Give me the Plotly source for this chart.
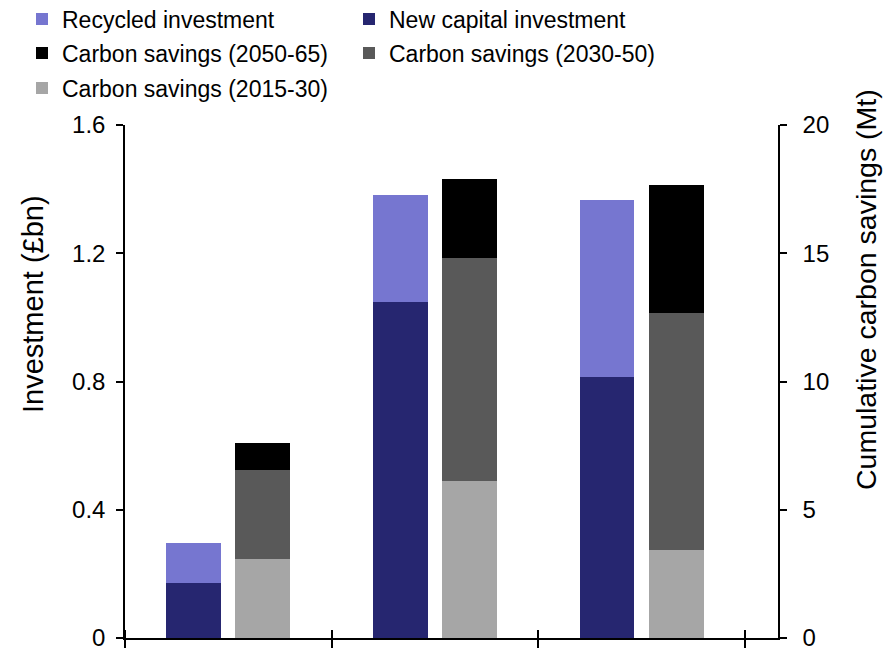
import plotly.graph_objects as go

# ---------------- data ----------------
categories = [0, 1, 2]
new_capital = [0.172, 1.049, 0.814]      # £bn
recycled = [0.124, 0.333, 0.552]         # £bn
carbon_2015_30 = [3.08, 6.12, 3.43]      # Mt
carbon_2030_50 = [3.47, 8.68, 9.24]      # Mt
carbon_2050_65 = [1.05, 3.08, 4.99]      # Mt
left_ticks = [0, 0.4, 0.8, 1.2, 1.6]
left_tick_text = ["0", "0.4", "0.8", "1.2", "1.6"]
right_ticks = [0, 5, 10, 15, 20]
boundary_ticks = [-0.5, 0.5, 1.5, 2.5]
left_title = "Investment (£bn)"
right_title = "Cumulative carbon savings (Mt)"

FONT = "Liberation Sans, Arial, sans-serif"
BW = 0.265
INV_OFF = -0.167 - BW / 2
CAR_OFF = 0.167 - BW / 2
XRANGE = [-0.5, 2.66]

fig = go.Figure()


def bar(name, y, color, axis, off, legend, rank):
    return go.Bar(
        x=categories, y=y, name=name, yaxis=axis, width=BW, offset=off,
        marker=dict(color=color, line=dict(width=0)),
        legend=legend, legendrank=rank, hoverinfo="name+y",
    )


fig.add_trace(bar("New capital investment", new_capital, "#262670", "y", INV_OFF, "legend", 2))
fig.add_trace(bar("Recycled investment", recycled, "#7676D0", "y", INV_OFF, "legend", 1))
fig.add_trace(bar("Carbon savings (2015-30)", carbon_2015_30, "#A6A6A6", "y2", CAR_OFF, "legend3", 5))
fig.add_trace(bar("Carbon savings (2030-50)", carbon_2030_50, "#595959", "y2", CAR_OFF, "legend2", 4))
fig.add_trace(bar("Carbon savings (2050-65)", carbon_2050_65, "#000000", "y2", CAR_OFF, "legend2", 3))
# invisible helper so the upward-tick companion axis is drawn
fig.add_trace(go.Scatter(x=categories, y=new_capital, xaxis="x2", yaxis="y",
                         showlegend=False, hoverinfo="skip", mode="markers",
                         marker=dict(opacity=0)))

leg_common = dict(
    orientation="h", xref="container", yref="container", x=22 / 893, xanchor="left",
    yanchor="middle", font=dict(family=FONT, size=23, color="black"),
    entrywidth=282, entrywidthmode="pixels", itemwidth=30,
    bgcolor="rgba(0,0,0,0)", traceorder="normal",
)

fig.update_layout(
    width=893, height=650,
    margin=dict(l=125, r=115, t=125, b=12, autoexpand=False),
    paper_bgcolor="white", plot_bgcolor="white",
    barmode="stack",
    font=dict(family=FONT, size=24, color="black"),
    showlegend=True,
    legend=dict(leg_common, y=1 - 19 / 650),
    legend2=dict(leg_common, y=1 - 53 / 650),
    legend3=dict(leg_common, y=1 - 88 / 650),
    xaxis=dict(
        range=XRANGE, tickvals=boundary_ticks, ticktext=["", "", "", ""],
        ticks="outside", ticklen=8, tickwidth=1.5, tickcolor="black",
        showline=True, linecolor="black", linewidth=1.5, automargin=False,
        showgrid=False, zeroline=False, fixedrange=True,
    ),
    xaxis2=dict(
        overlaying="x", anchor="free", position=0, side="top", range=XRANGE,
        tickvals=boundary_ticks, ticktext=["", "", "", ""], ticks="outside",
        ticklen=8, tickwidth=1.5, tickcolor="black", automargin=False,
        showline=False, showgrid=False, zeroline=False, fixedrange=True,
    ),
    yaxis=dict(
        range=[0, 1.6], tickvals=left_ticks, ticktext=left_tick_text,
        ticks="outside", ticklen=7, tickwidth=1.5, tickcolor="black",
        showline=True, linecolor="black", linewidth=1.5, automargin=False,
        showgrid=False, zeroline=False, ticklabeloverflow="allow",
        ticklabelstandoff=6, tickfont=dict(size=24),
    ),
    yaxis2=dict(
        range=[0, 20], tickvals=right_ticks, overlaying="y", side="right",
        ticks="outside", ticklen=7, tickwidth=1.5, tickcolor="black",
        showline=True, linecolor="black", linewidth=1.5, automargin=False,
        showgrid=False, zeroline=False, ticklabeloverflow="allow",
        ticklabelstandoff=11, tickfont=dict(size=24),
    ),
    annotations=[
        dict(text=left_title, textangle=-90, xref="paper", yref="paper",
             x=(33 - 125) / 653, y=(638 - 304) / 513, xanchor="center",
             yanchor="middle", showarrow=False, font=dict(size=29)),
        dict(text=right_title, textangle=-90, xref="paper", yref="paper",
             x=(866 - 125) / 653, y=(638 - 290) / 513, xanchor="center",
             yanchor="middle", showarrow=False, font=dict(size=28.5)),
    ],
)

fig.write_html("out.html")
